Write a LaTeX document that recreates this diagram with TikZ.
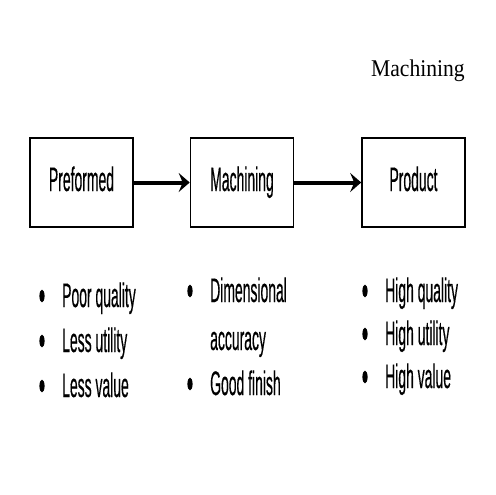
\documentclass[tikz,border=0pt]{standalone}
\usepackage{fontspec}
\usepackage{graphicx}
\newfontfamily\arialfont[FakeBold=0.6]{Liberation Sans}
\newfontfamily\timesfont{Liberation Serif}
\usetikzlibrary{arrows.meta}
\newcommand{\narrow}[1]{\scalebox{0.41}[1]{#1}}
\tikzset{
  stage/.style={draw, line width=1.6pt, minimum width=103pt, minimum height=89pt,
    inner sep=0pt, text height=25pt, text depth=8pt,
    font=\arialfont\fontsize{34}{40}\selectfont},
  flow/.style={line width=4pt, -{Stealth[length=11pt,width=19pt,inset=4pt]}},
  item/.style={anchor=base west, inner sep=0pt, font=\arialfont\fontsize{34}{40}\selectfont}
}
\begin{document}
\begin{tikzpicture}[x=1pt,y=-1pt]
\useasboundingbox (0,0) rectangle (495,495);
\node[anchor=base west, inner sep=0pt, font=\timesfont\fontsize{24}{28}\selectfont] (title) at (371,76) {\scalebox{0.9}[1]{Machining}};
% stages
\node[stage] (pre) at (81.5,182.5) {\narrow{Preformed}};
\node[stage] (mach) at (242,182.5) {\narrow{Machining}};
\node[stage] (prod) at (413.5,182.5) {\narrow{Product}};
\draw[flow] (pre.east) -- (mach.west);
\draw[flow] (mach.east) -- (prod.west);
% before machining
\node[item] (pre1) at (62,307) {\narrow{Poor quality}};
\node[item] (pre2) at (62,352) {\narrow{Less utility}};
\node[item] (pre3) at (62,397) {\narrow{Less value}};
% machining gives
\node[item] (mach1) at (210,302) {\narrow{Dimensional}};
\node[item] (mach2) at (210,350) {\narrow{accuracy}};
\node[item] (mach3) at (210,395) {\narrow{Good finish}};
% product
\node[item] (prod1) at (385,302) {\narrow{High quality}};
\node[item] (prod2) at (385,345) {\narrow{High utility}};
\node[item] (prod3) at (385,388) {\narrow{High value}};
% bullets
\foreach \n in {pre1,pre2,pre3,mach1,mach3,prod1,prod2,prod3}
  \fill (\n.base west) ++(-20,-11) ellipse (2.6 and 6.3);
\end{tikzpicture}
\end{document}
